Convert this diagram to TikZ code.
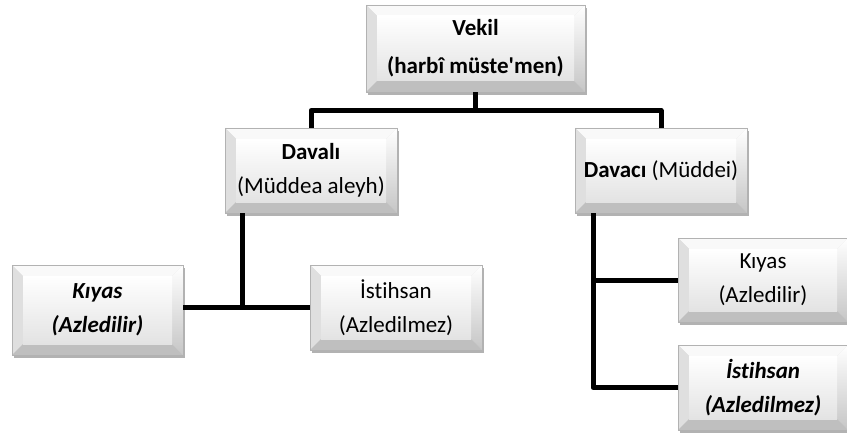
\documentclass[tikz,border=0pt]{standalone}
\usepackage{fontspec}
\setmainfont{Carlito}[Ligatures={NoCommon}]
\usetikzlibrary{shadows}
\def\bv{11pt}
\tikzset{
  bevelbox/.style={draw=gray!60,line width=0.6pt,fill=gray!30,
    drop shadow={shadow xshift=2pt,shadow yshift=-3pt,fill=black,opacity=0.3},
    align=center,inner sep=0pt,font=\fontsize{23}{34}\selectfont,
    path picture={
      \fill[gray!5] (path picture bounding box.north west) -- (path picture bounding box.north east)
        -- ([xshift=-\bv,yshift=-\bv]path picture bounding box.north east)
        -- ([xshift=\bv,yshift=-\bv]path picture bounding box.north west) -- cycle;
      \fill[gray!25] (path picture bounding box.north west) -- (path picture bounding box.south west)
        -- ([xshift=\bv,yshift=\bv]path picture bounding box.south west)
        -- ([xshift=\bv,yshift=-\bv]path picture bounding box.north west) -- cycle;
      \shade[top color=white,bottom color=gray!45] (path picture bounding box.north east) -- (path picture bounding box.south east)
        -- ([xshift=-\bv,yshift=\bv]path picture bounding box.south east)
        -- ([xshift=-\bv,yshift=-\bv]path picture bounding box.north east) -- cycle;
      \fill[gray!50] (path picture bounding box.south west) -- (path picture bounding box.south east)
        -- ([xshift=-\bv,yshift=\bv]path picture bounding box.south east)
        -- ([xshift=\bv,yshift=\bv]path picture bounding box.south west) -- cycle;
      \shade[top color=white,bottom color=gray!22]
        ([xshift=\bv,yshift=-\bv]path picture bounding box.north west)
        rectangle ([xshift=-\bv,yshift=\bv]path picture bounding box.south east);
    }},
  conn/.style={line width=5pt,line join=round}
}

\begin{document}
\begin{tikzpicture}[x=1pt,y=-1pt]%<<<
\useasboundingbox[fill=white] (0,0) rectangle (847,436);
\node[bevelbox,minimum width=219pt,minimum height=87pt,font=\fontsize{23}{38}\selectfont] (vekil) at (475.5,48.5)
  {\textbf{Vekil}\\\textbf{(harbî müste\textquotesingle men)}};
\node[bevelbox,minimum width=172pt,minimum height=85pt] (davali) at (311,170.5)
  {\textbf{Davalı}\\(Müddea aleyh)};
\node[bevelbox,minimum width=172pt,minimum height=85pt] (davaci) at (661,170.5)
  {\textbf{Davacı} (Müddei)};
\node[bevelbox,minimum width=171pt,minimum height=90pt] (kiyasL) at (97.5,310)
  {\textbf{\textit{Kıyas}}\\\textbf{\textit{(Azledilir)}}};
\node[bevelbox,minimum width=172pt,minimum height=85pt] (istihsanM) at (396,307.5)
  {İstihsan\\(Azledilmez)};
\node[bevelbox,minimum width=170pt,minimum height=84pt] (kiyasR) at (763,280)
  {Kıyas\\(Azledilir)};
\node[bevelbox,minimum width=170pt,minimum height=85pt] (istihsanR) at (763,387.5)
  {\textbf{\textit{İstihsan}}\\\textbf{\textit{(Azledilmez)}}};

\draw[conn] (vekil.south) -- ++(0,18) -| (davali.north);
\draw[conn] (vekil.south) -- ++(0,18) -| (davaci.north);
\coordinate (lbus) at (242,213);
\draw[conn] (lbus) -- (lbus |- istihsanM.west);
\draw[conn] (kiyasL.east |- istihsanM.west) -- (istihsanM.west);
\coordinate (rbus) at (593,213);
\draw[conn] (rbus) |- (istihsanR.west);
\draw[conn] (rbus |- kiyasR.west) -- (kiyasR.west);
\end{tikzpicture}
\end{document}
